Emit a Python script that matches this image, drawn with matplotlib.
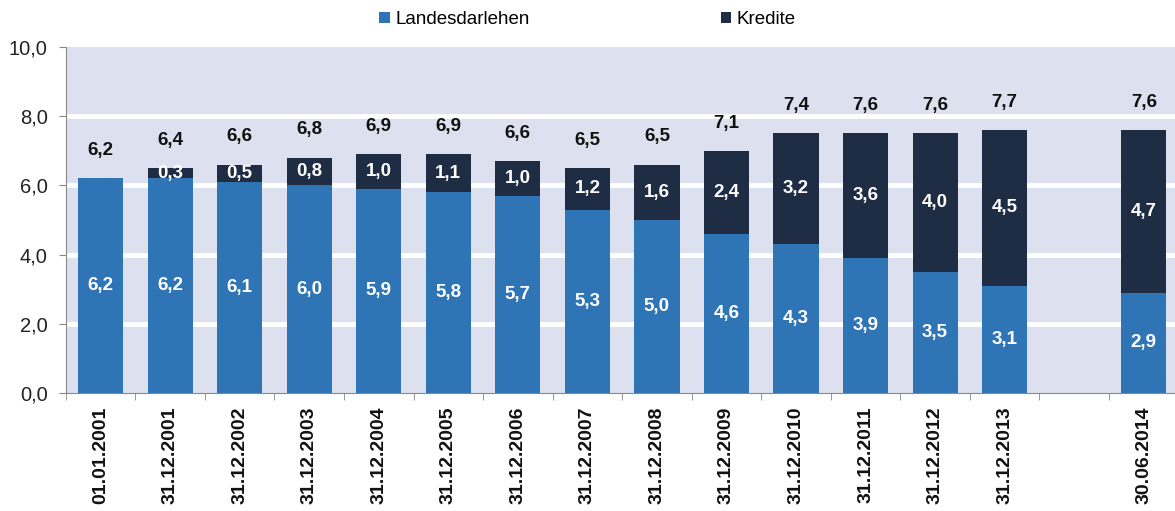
import numpy as np
import matplotlib.pyplot as plt

plt.rcParams['font.family'] = ['Liberation Sans', 'DejaVu Sans']

dates = ['01.01.2001', '31.12.2001', '31.12.2002', '31.12.2003', '31.12.2004',
         '31.12.2005', '31.12.2006', '31.12.2007', '31.12.2008', '31.12.2009',
         '31.12.2010', '31.12.2011', '31.12.2012', '31.12.2013', '30.06.2014']
landesdarlehen = [6.2, 6.2, 6.1, 6.0, 5.9, 5.8, 5.7, 5.3, 5.0, 4.6, 4.3, 3.9, 3.5, 3.1, 2.9]
kredite = [0.0, 0.3, 0.5, 0.8, 1.0, 1.1, 1.0, 1.2, 1.6, 2.4, 3.2, 3.6, 4.0, 4.5, 4.7]
gesamt = [6.2, 6.4, 6.6, 6.8, 6.9, 6.9, 6.6, 6.5, 6.5, 7.1, 7.4, 7.6, 7.6, 7.7, 7.6]

blue = '#2f74b5'
navy = '#1e2c44'


def de(v):
    return f'{v:.1f}'.replace('.', ',')


def main():
    # letzter Balken mit einer Lücke davor
    pos = np.array(list(range(14)) + [15])

    fig = plt.figure(figsize=(11.75, 5.11), dpi=100)
    ax = fig.add_axes([0.056, 0.231, 0.947, 0.677])
    ax.set_facecolor('#dde0ee')

    ld = np.array(landesdarlehen)
    kr = np.array(kredite)
    b1 = ax.bar(pos, ld, width=0.65, color=blue, zorder=3, label='Landesdarlehen')
    b2 = ax.bar(pos, kr, bottom=ld, width=0.65, color=navy, zorder=3, label='Kredite')

    for x, v in zip(pos, ld):
        ax.text(x, v / 2, de(v), ha='center', va='center', color='white',
                fontsize=13.5, fontweight='bold', zorder=4)
    for x, b, v in zip(pos, ld, kr):
        if v > 0:
            ax.text(x, b + v / 2, de(v), ha='center', va='center', color='white',
                    fontsize=13.5, fontweight='bold', zorder=4)
    for x, b, v, t in zip(pos, ld, kr, gesamt):
        ax.annotate(de(t), (x, b + v), xytext=(0, 20), textcoords='offset points',
                    ha='center', va='center', fontsize=13.5, fontweight='bold', color='#111111')

    ax.set_ylim(0, 10)
    ax.set_xlim(-0.5, 15.5)
    ax.set_yticks(np.arange(0, 11, 2))
    ax.set_yticklabels([de(v) for v in np.arange(0, 11, 2)], fontsize=14.5, color='#222222')
    for y in [2, 4, 6, 8]:
        ax.axhline(y, color='white', linewidth=3.5, zorder=1)

    ax.set_xticks(pos)
    ax.set_xticklabels(dates, rotation=90, fontsize=14, fontweight='bold', color='#111111')
    ax.tick_params(axis='x', which='major', length=0, pad=10)
    ax.set_xticks(np.arange(-0.5, 15.6, 1), minor=True)
    ax.tick_params(axis='x', which='minor', length=5, color='#888888')
    ax.tick_params(axis='y', length=5, color='#888888', pad=8)

    for s in ['top', 'right']:
        ax.spines[s].set_visible(False)
    for s in ['left', 'bottom']:
        ax.spines[s].set_color('#888888')

    fig.legend(handles=[b1, b2], loc='upper center', bbox_to_anchor=(0.5, 1.0), ncol=2,
               frameon=False, fontsize=13.5, handlelength=0.55, handleheight=0.55,
               handletextpad=0.3, columnspacing=10.2, borderaxespad=0.2)

    fig.savefig('out.png', dpi=100)


if __name__ == '__main__':
    main()
